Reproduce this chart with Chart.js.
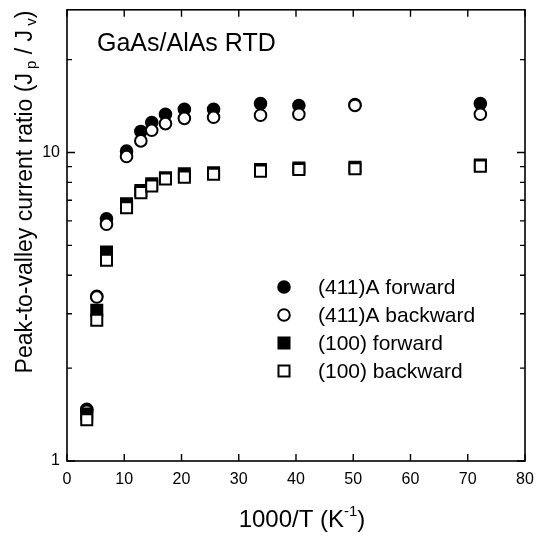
<!DOCTYPE html>
<html>
<head>
<meta charset="utf-8">
<script src="https://cdn.jsdelivr.net/npm/chart.js@4"></script>
<style>
  html, body { margin: 0; padding: 0; background: #fff; }
  #wrap { width: 545px; height: 539px; }
</style>
</head>
<body>
<div id="wrap"><canvas id="myChart" width="545" height="539"></canvas></div>
<script>
// 1000/T values (K^-1)
const invT = [3.45, 5.2, 6.9, 10.4, 12.9, 14.8, 17.2, 20.5, 25.6, 33.8, 40.5, 50.3, 72.2];
// peak-to-valley ratios
const a411Forward  = [1.47, 3.42, 6.1, 10.1, 11.7, 12.5, 13.3, 13.8, 13.8, 14.4, 14.2, 14.3, 14.4];
const a411Backward = [1.45, 3.40, 5.85, 9.7, 10.9, 11.8, 12.4, 12.9, 13.0, 13.2, 13.3, 14.2, 13.3];
const s100Forward  = [1.42, 3.08, 4.76, 6.82, 7.53, 7.92, 8.28, 8.53, 8.6, 8.8, 8.9, 8.95, 9.1];
const s100Backward = [1.36, 2.86, 4.47, 6.62, 7.41, 7.78, 8.2, 8.32, 8.5, 8.7, 8.81, 8.85, 9.03];

const xTicks = [0, 10, 20, 30, 40, 50, 60, 70, 80];
const yTicks = [1, 2, 3, 4, 5, 6, 7, 8, 9, 10, 20];
const yLabeled = [1, 10];
const legendLabels = ['(411)A forward', '(411)A backward', '(100) forward', '(100) backward'];

const FONT = 'Arial, "Liberation Sans", sans-serif';

function pts(ys) {
    return invT.map((x, i) => ({ x: x, y: ys[i] }));
}

const styles = [
    { style: 'circle', fill: '#000', r: 5.8, order: 3 },
    { style: 'circle', fill: '#fff', r: 5.8, order: 2 },
    { style: 'rect', fill: '#000', r: 7.8, order: 1 },
    { style: 'rect', fill: '#fff', r: 7.8, order: 0 }
];
const series = [a411Forward, a411Backward, s100Forward, s100Backward];

const decor = {
    id: 'decor',
    afterDraw(chart) {
        const ctx = chart.ctx;
        const a = chart.chartArea;
        const xs = chart.scales.x, ys = chart.scales.y;
        ctx.save();
        ctx.strokeStyle = '#000';
        ctx.lineWidth = 1.6;
        ctx.strokeRect(a.left, a.top, a.right - a.left, a.bottom - a.top);

        // inward ticks
        ctx.lineWidth = 1.4;
        ctx.beginPath();
        xTicks.forEach(v => {
            const p = xs.getPixelForValue(v);
            ctx.moveTo(p, a.bottom); ctx.lineTo(p, a.bottom - 7);
            ctx.moveTo(p, a.top); ctx.lineTo(p, a.top + 7);
        });
        yTicks.forEach(v => {
            const p = ys.getPixelForValue(v);
            const len = yLabeled.includes(v) ? 8 : 5;
            ctx.moveTo(a.left, p); ctx.lineTo(a.left + len, p);
            ctx.moveTo(a.right, p); ctx.lineTo(a.right - len, p);
        });
        ctx.stroke();

        // label inside plot
        ctx.fillStyle = '#000';
        ctx.font = '25px ' + FONT;
        ctx.textBaseline = 'alphabetic';
        ctx.textAlign = 'left';
        ctx.fillText('GaAs/AlAs RTD', 97, 51);

        // legend
        const rows = [287, 315, 343, 371];
        ctx.font = '21px ' + FONT;
        ctx.textBaseline = 'middle';
        rows.forEach((y, i) => {
            const s = styles[i];
            ctx.fillStyle = s.fill;
            ctx.strokeStyle = '#000';
            ctx.lineWidth = 2;
            Chart.helpers.drawPoint(ctx, { pointStyle: s.style, radius: s.r, rotation: 0, borderWidth: 2 }, 284, y);
            ctx.fillStyle = '#000';
            ctx.fillText(legendLabels[i], 318, y + 1);
        });

        // x axis title with superscript
        ctx.textBaseline = 'alphabetic';
        const big = '24px ' + FONT, sup = '15px ' + FONT;
        const t1 = '1000/T (K', t2 = '-1', t3 = ')';
        ctx.font = big;
        const w1 = ctx.measureText(t1).width;
        const w3 = ctx.measureText(t3).width;
        ctx.font = sup;
        const w2 = ctx.measureText(t2).width;
        const x0 = 302 - (w1 + w2 + w3) / 2;
        const by = 527;
        ctx.font = big;
        ctx.fillText(t1, x0, by);
        ctx.fillText(t3, x0 + w1 + w2, by);
        ctx.font = sup;
        ctx.fillText(t2, x0 + w1, by - 11);

        // y axis title with subscripts
        ctx.translate(32, 192);
        ctx.rotate(-Math.PI / 2);
        const parts = [
            ['Peak-to-valley current ratio (J', false],
            [' p', true],
            [' / J', false],
            [' v', true],
            [')', false]
        ];
        const fontFor = sub => (sub ? '15px ' : '23px ') + FONT;
        let total = 0;
        parts.forEach(p => {
            ctx.font = fontFor(p[1]);
            total += ctx.measureText(p[0]).width;
        });
        let cx = -total / 2;
        parts.forEach(p => {
            ctx.font = fontFor(p[1]);
            ctx.fillText(p[0], cx, p[1] ? 4 : 0);
            cx += ctx.measureText(p[0]).width;
        });
        ctx.restore();
    }
};

const ctx = document.getElementById('myChart').getContext('2d');
const chart = new Chart(ctx, {
    type: 'scatter',
    data: {
        datasets: series.map((ys, i) => ({
            label: legendLabels[i],
            data: pts(ys),
            pointStyle: styles[i].style,
            pointRadius: styles[i].r,
            pointHoverRadius: styles[i].r,
            backgroundColor: styles[i].fill,
            borderColor: '#000',
            borderWidth: 2,
            order: styles[i].order,
            showLine: false
        }))
    },
    options: {
        responsive: false,
        animation: false,
        devicePixelRatio: 1,
        layout: { padding: { left: 0, right: 20, top: 7, bottom: 0 } },
        plugins: {
            legend: { display: false },
            tooltip: { enabled: false }
        },
        scales: {
            x: {
                type: 'linear',
                min: 0,
                max: 80,
                afterFit(s) { s.height = 78; s.paddingLeft = 0; s.paddingRight = 0; },
                afterBuildTicks(s) { s.ticks = xTicks.map(v => ({ value: v })); },
                grid: { display: false, drawTicks: false },
                border: { display: false },
                ticks: {
                    padding: 9,
                    color: '#000',
                    font: { family: FONT, size: 16 },
                    maxRotation: 0
                }
            },
            y: {
                type: 'logarithmic',
                min: 1,
                max: 29,
                afterFit(s) { s.width = 67; s.paddingTop = 0; s.paddingBottom = 0; },
                afterBuildTicks(s) { s.ticks = yTicks.map(v => ({ value: v })); },
                grid: { display: false, drawTicks: false },
                border: { display: false },
                ticks: {
                    padding: 7,
                    color: '#000',
                    autoSkip: false,
                    font: { family: FONT, size: 16 },
                    callback: v => (yLabeled.includes(v) ? String(v) : '')
                }
            }
        }
    },
    plugins: [decor]
});
</script>
</body>
</html>
